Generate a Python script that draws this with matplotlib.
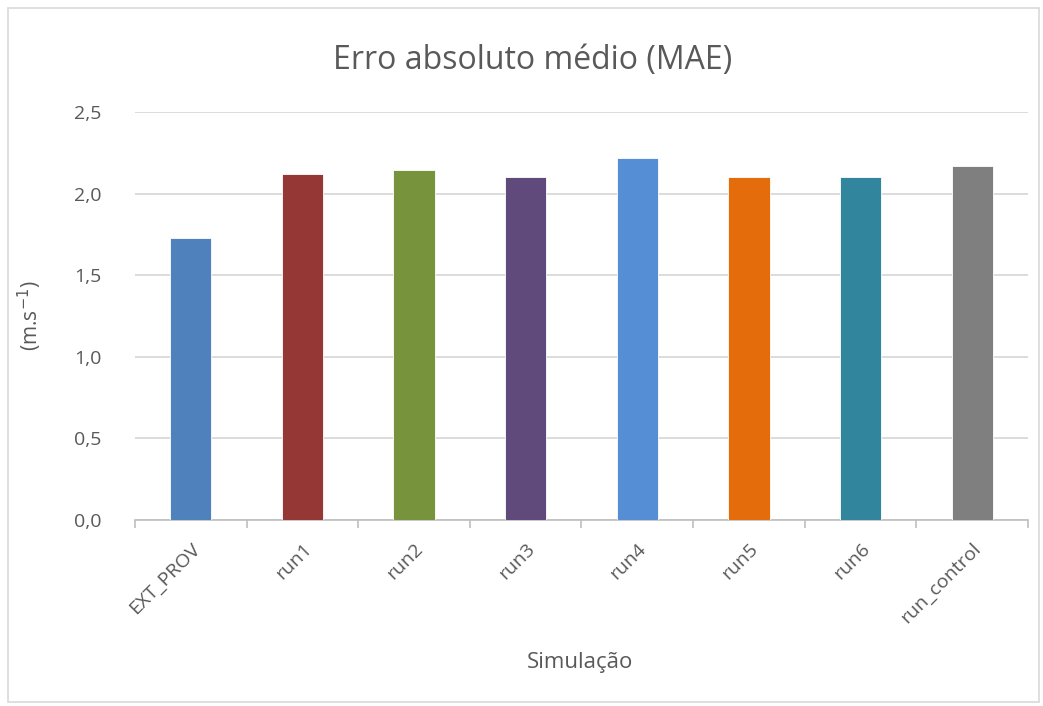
import matplotlib.pyplot as plt
import numpy as np
from matplotlib.patches import Rectangle

# Erro absoluto médio por simulação
simulacoes = ['EXT_PROV', 'run1', 'run2', 'run3', 'run4', 'run5', 'run6', 'run_control']
mae = [1.73, 2.12, 2.145, 2.10, 2.215, 2.10, 2.10, 2.17]
cores = ['#4F81BD', '#953735', '#77933C', '#604A7B', '#558ED5', '#E46C0A', '#31859C', '#7F7F7F']
yticks = [0.0, 0.5, 1.0, 1.5, 2.0, 2.5]

plt.rcParams['font.family'] = ['Open Sans', 'DejaVu Sans']

fig = plt.figure(figsize=(10.43, 7.06), dpi=100)
ax = fig.add_axes([0.1294, 0.2635, 0.8562, 0.5779])

x = np.arange(len(simulacoes))
ax.bar(x, mae, width=0.37, color=cores, edgecolor='white', linewidth=0.6, zorder=3)

ax.set_xlim(-0.5, len(simulacoes) - 0.5)
ax.set_ylim(0, 2.5)
ax.set_yticks(yticks)
ax.set_yticklabels([f'{v:.1f}'.replace('.', ',') for v in yticks], fontsize=14, color='#595959')
ax.yaxis.grid(True, color='#d9d9d9', linewidth=1.3, zorder=0)
ax.tick_params(axis='y', length=0, pad=24)

ax.set_xticks(x)
ax.set_xticklabels(simulacoes, rotation=45, ha='right', rotation_mode='anchor',
                   fontsize=14, color='#595959')
ax.set_xticks(np.arange(-0.5, len(simulacoes)), minor=True)
ax.tick_params(axis='x', which='major', length=0, pad=14)
ax.tick_params(axis='x', which='minor', length=6, color='#bfbfbf', width=1.2)

for s in ['top', 'right', 'left']:
    ax.spines[s].set_visible(False)
ax.spines['bottom'].set_color('#bfbfbf')
ax.spines['bottom'].set_linewidth(1.2)

fig.text(0.511, 0.915, 'Erro absoluto médio (MAE)', fontsize=23, color='#595959',
         ha='center', va='center')
ax.set_ylabel('(m.s$^{-1}$)', fontsize=15, color='#595959', labelpad=22)
fig.text(0.556, 0.061, 'Simulação', fontsize=16, color='#595959', ha='center', va='center')

# borda do gráfico
fig.patches.append(Rectangle((0.008, 0.005), 0.988, 0.983, transform=fig.transFigure,
                             fill=False, edgecolor='#d9d9d9', linewidth=1.2))

fig.savefig('out.png', dpi=100)
